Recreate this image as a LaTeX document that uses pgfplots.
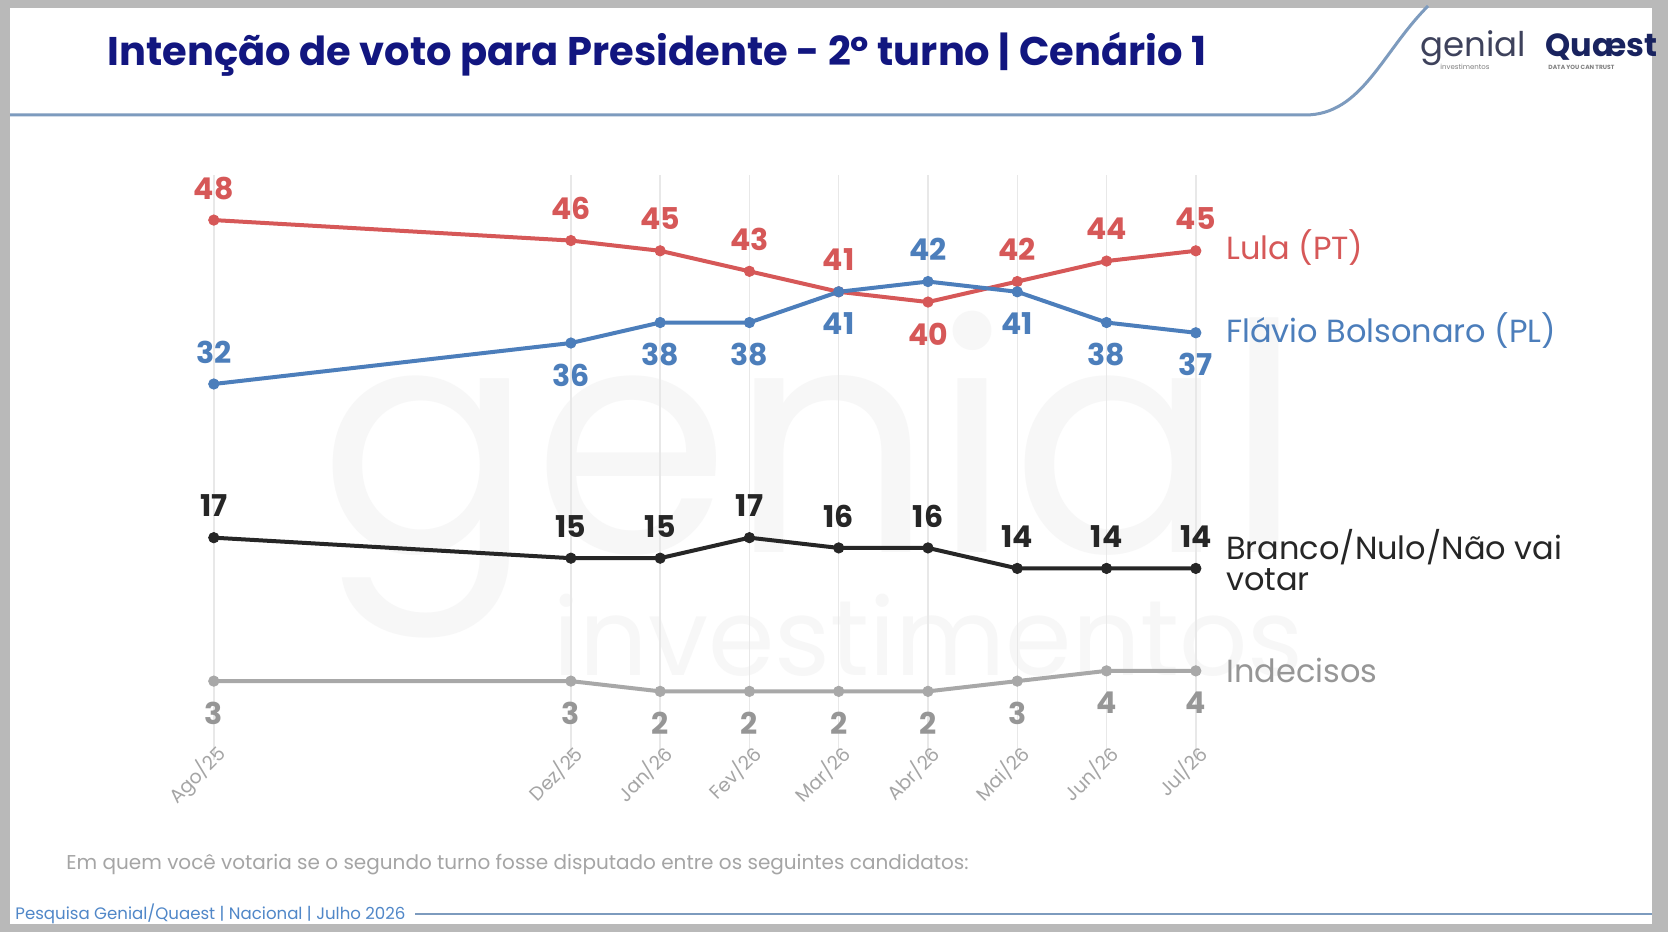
\documentclass[border=0pt]{standalone}
\usepackage{pgfplots}
\pgfplotsset{compat=1.18}
\usepackage{pgfplotstable}
\usepackage{fontspec}
\usepackage{graphicx}
\setmainfont{Poppins}

\definecolor{lula}{RGB}{214,88,88}
\definecolor{flavio}{RGB}{76,126,187}
\definecolor{branco}{RGB}{38,38,38}
\definecolor{indec}{RGB}{168,168,168}
\definecolor{indeclab}{RGB}{150,150,150}
\definecolor{navy}{RGB}{18,22,128}
\definecolor{hdr}{RGB}{125,155,190}
\definecolor{footblue}{RGB}{80,135,200}
\definecolor{footgray}{RGB}{165,165,165}
\definecolor{wm}{RGB}{247,247,247}
\definecolor{framec}{RGB}{185,185,185}
\definecolor{gridc}{RGB}{232,232,232}
\definecolor{tickgray}{RGB}{165,165,165}
\definecolor{logogray}{RGB}{62,66,92}
\definecolor{quaest}{RGB}{25,35,95}

\pgfplotstableread{
x y pos
0 48 1
4 46 1
5 45 1
6 43 1
7 41 1
8 40 -1
9 42 1
10 44 1
11 45 1
}\lula
\pgfplotstableread{
x y pos
0 32 1
4 36 -1
5 38 -1
6 38 -1
7 41 -1
8 42 1
9 41 -1
10 38 -1
11 37 -1
}\flavio
\pgfplotstableread{
x y pos
0 17 1
4 15 1
5 15 1
6 17 1
7 16 1
8 16 1
9 14 1
10 14 1
11 14 1
}\branco
\pgfplotstableread{
x y pos
0 3 -1
4 3 -1
5 2 -1
6 2 -1
7 2 -1
8 2 -1
9 3 -1
10 4 -1
11 4 -1
}\indec

\pgfplotsset{
  lab/.style={
    nodes near coords={\pgfmathprintnumber[assume math mode=true]{\pgfplotspointmeta}},
    point meta=explicit,
    visualization depends on={\thisrow{pos} \as \lpos},
    every node near coord/.append style={anchor=center, yshift=\lpos*16pt, font=\bfseries\fontsize{15}{15}\selectfont, text=#1},
  }
}

\begin{document}
\begin{tikzpicture}[x=0.5pt,y=0.5pt]
\useasboundingbox (0,0) rectangle (1668,932);
\fill[framec] (0,0) rectangle (1668,932);
\fill[white] (10,8) rectangle (1652,924);

% watermark
\node[anchor=base west, inner sep=0, text=wm] at (319,379) {\resizebox{492pt}{!}{genial}};
\node[anchor=base west, inner sep=0, text=wm] at (553,257) {\resizebox{375pt}{!}{investimentos}};

% header
\draw[hdr, line width=1.5pt] (10,817) -- (1305,817) .. controls (1362,817) and (1382,880) .. (1428,926);
\node[anchor=west, inner sep=0, text=navy, font=\bfseries\fontsize{20}{24}\selectfont] at (107,878) {Intenção de voto para Presidente - 2º turno | Cenário 1};

% logos
\node[anchor=west, inner sep=0, text=logogray, font=\fontsize{17}{17}\selectfont] at (1420,884) {genial};
\node[anchor=west, inner sep=0, text=gray, font=\fontsize{3.5}{4}\selectfont] at (1440,865) {investimentos};
\node[anchor=west, inner sep=0, text=quaest, font=\bfseries\fontsize{16}{16}\selectfont] at (1545,885) {Quæst};
\node[anchor=west, inner sep=0, text=gray, font=\bfseries\fontsize{3}{4}\selectfont] at (1548,865) {DATA YOU CAN TRUST};

% footer
\node[anchor=west, inner sep=0, text=footgray, font=\fontsize{10}{12}\selectfont] at (66,67) {Em quem você votaria se o segundo turno fosse disputado entre os seguintes candidatos:};
\node[anchor=west, inner sep=0, text=footblue, font=\fontsize{8.3}{10}\selectfont] at (15,18) {Pesquisa Genial/Quaest | Nacional | Julho 2026};
\draw[hdr, line width=1.2pt] (415,18) -- (1652,18);

\begin{axis}[
  at={(106.9pt,86pt)}, anchor=south west,
  scale only axis, width=491pt, height=292.5pt,
  xmin=0, xmax=11, ymin=-4.7, ymax=52.4,
  clip=false,
  axis line style={draw=none},
  ytick=\empty,
  xtick={0,4,5,6,7,8,9,10,11},
  xticklabels={Ago/25,Dez/25,Jan/26,Fev/26,Mar/26,Abr/26,Mai/26,Jun/26,Jul/26},
  major tick length=0pt,
  xmajorgrids,
  grid style={draw=gridc, line width=0.7pt},
  xticklabel style={rotate=45, anchor=east, font=\fontsize{9.5}{11}\selectfont, text=tickgray, inner sep=0pt, xshift=6.5pt, yshift=0.5pt},
  every axis plot/.append style={line width=2pt, mark=*, mark size=2.6pt},
]
\addplot[lula, mark options={line width=0.4pt, fill=lula}, lab=lula]
  table[x=x, y=y, meta=y] {\lula};
\addplot[flavio, mark options={line width=0.4pt, fill=flavio}, lab=flavio]
  table[x=x, y=y, meta=y] {\flavio};
\addplot[branco, mark options={line width=0.4pt, fill=branco}, lab=branco]
  table[x=x, y=y, meta=y] {\branco};
\addplot[indec, mark options={line width=0.4pt, fill=indec}, lab=indeclab]
  table[x=x, y=y, meta=y] {\indec};

\node[anchor=west, inner sep=0, text=lula, font=\fontsize{16}{19}\selectfont, xshift=15pt, yshift=1.5pt] at (axis cs:11,45) {Lula (PT)};
\node[anchor=west, inner sep=0, text=flavio, font=\fontsize{16}{19}\selectfont, xshift=15pt, yshift=1pt] at (axis cs:11,37) {Flávio Bolsonaro (PL)};
\node[anchor=west, inner sep=0, text=branco, align=left, font=\fontsize{16}{15.5}\selectfont, xshift=15pt, yshift=4.3pt] at (axis cs:11,14) {Branco/Nulo/Não vai\\votar};
\node[anchor=west, inner sep=0, text=indeclab, font=\fontsize{16}{19}\selectfont, xshift=15pt] at (axis cs:11,4) {Indecisos};
\end{axis}
\end{tikzpicture}
\end{document}
